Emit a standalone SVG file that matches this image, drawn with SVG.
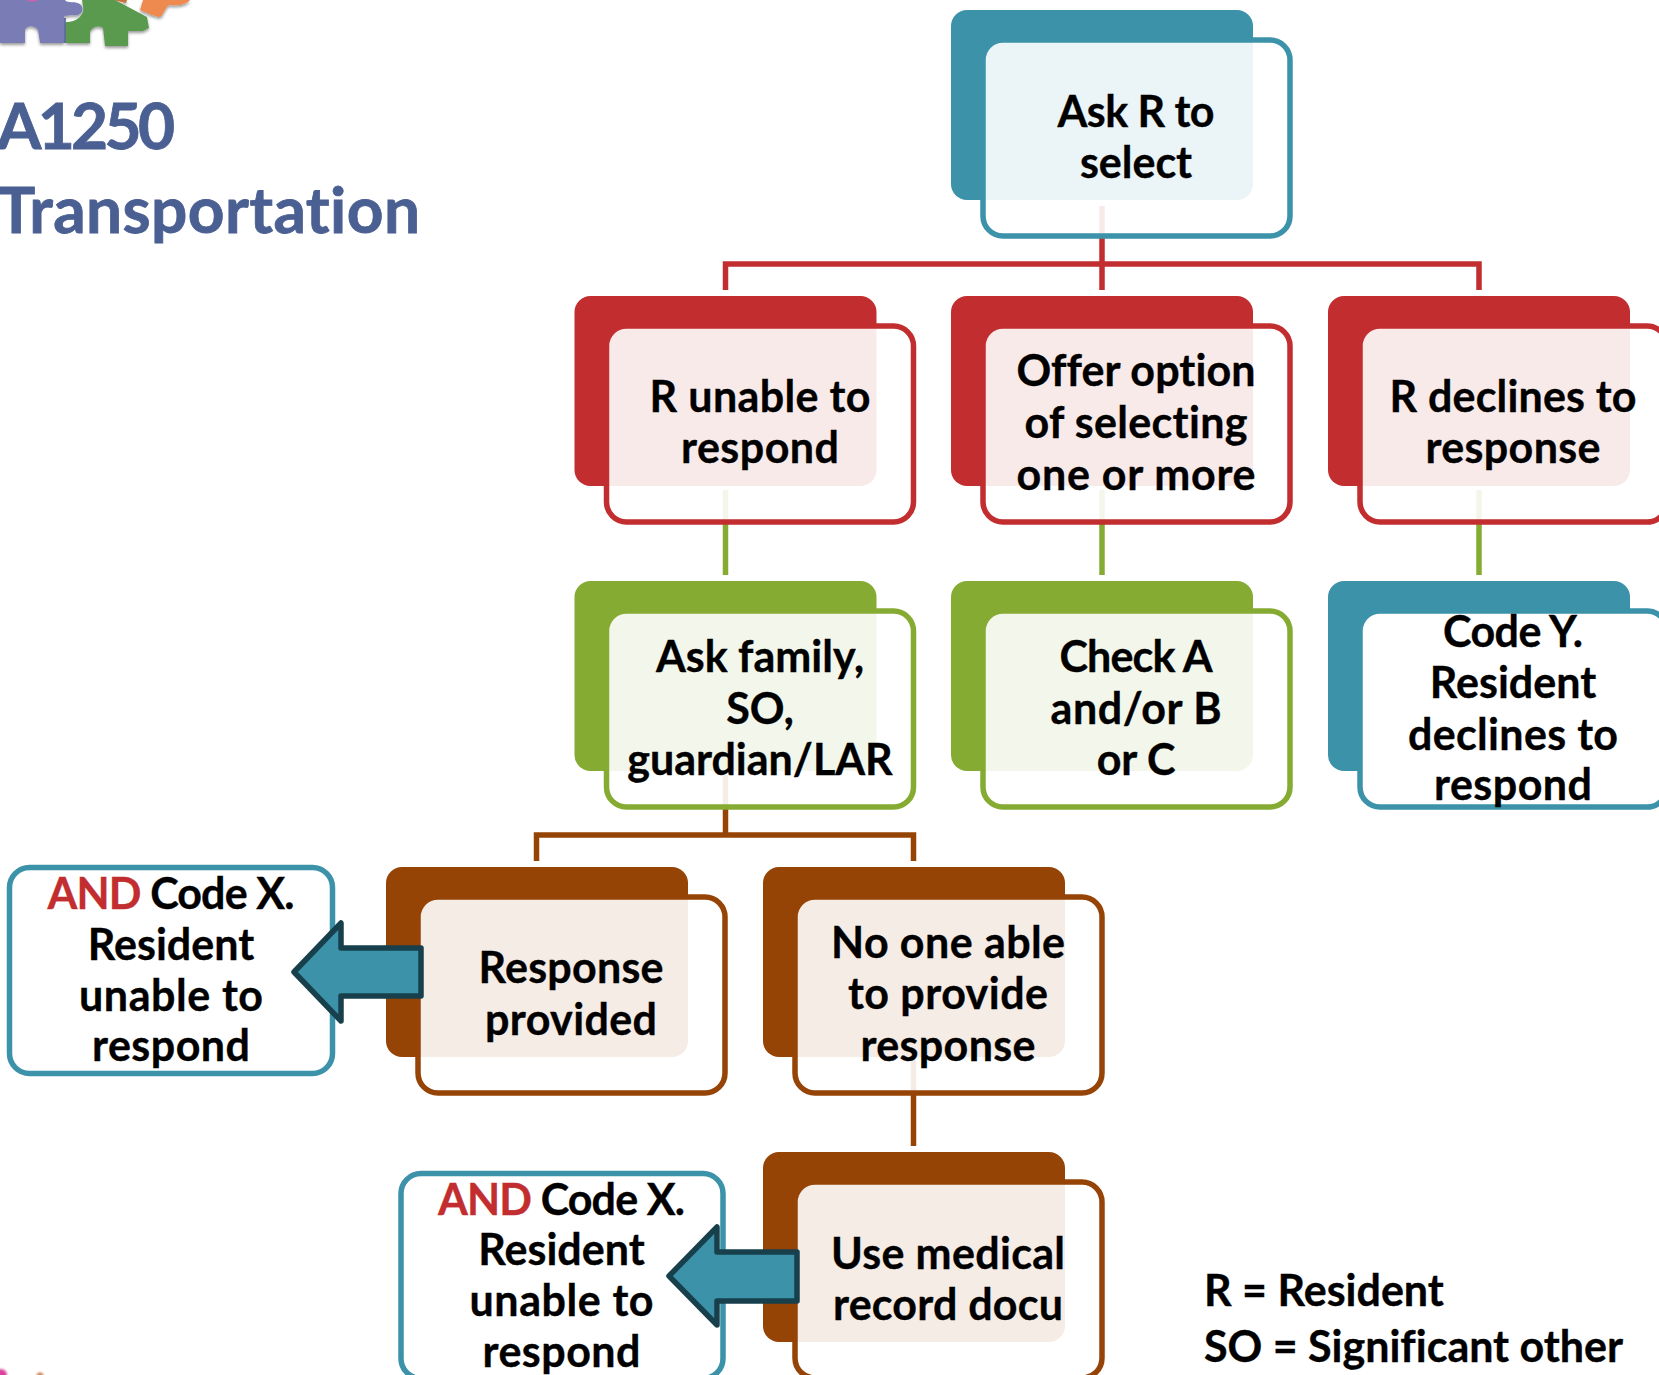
<svg xmlns="http://www.w3.org/2000/svg" width="1659" height="1375" viewBox="0 0 1659 1375">
<defs>
<filter id="sh" x="-10%" y="-10%" width="125%" height="135%"><feDropShadow dx="0" dy="2" stdDeviation="1.500" flood-color="#000" flood-opacity=".4"/></filter>
<filter id="soft"><feGaussianBlur stdDeviation="1"/></filter>
</defs>
<style>
text{font-family:Lato,"Liberation Sans",sans-serif;font-weight:700;font-size:43px;fill:#000;stroke:#000;stroke-width:.35px;text-anchor:middle;font-variant-ligatures:none;transform:translateY(1px)}
.title{font-size:64px;fill:#4A5F92;stroke:#4A5F92;stroke-width:.8px;text-anchor:start}
.leg{text-anchor:start}
.and{fill:#C22D2F;stroke:#C22D2F}
.conn{fill:none;stroke-width:5.5}
.back{stroke:none}
.out{fill:#fff;fill-opacity:.9;stroke-width:5.5}
.solid{fill-opacity:1}
.box{fill:#fff;stroke:#3B92A9;stroke-width:5.5}
.arrow{fill:#3B92A9;stroke:#17404C;stroke-width:5.5;stroke-linejoin:round}
.b{fill:#3B92A9}.bs{stroke:#3B92A9}
.r{fill:#C22D2F}.rs{stroke:#C22D2F}
.g{fill:#86AB33}.gs{stroke:#86AB33}
.o{fill:#964306}.os{stroke:#964306}
</style>
<g id="logo">
<g filter="url(#sh)">
<path fill="#EE8A4F" d="M143 0H190C187 4 180 6 169 5C165 7 164 15 160 17C156 17 147 13 140 10Z"/>
<path fill="#C9703C" d="M113 0H127L126 3Z"/>
<path fill="#5A9A50" d="M82 0H115L147 17L149 28L143 31H128L128 46H105L103 28C98 25 92 27 90 32L90 43H66V22C78 22 85 14 83 6Z"/>
<path fill="#7A7DB5" d="M0 0H65C67 4 76 0 81 5C85 10 81 17 72 15L64 16V43H40L38 30C34 25 27 25 25 30V43H0Z"/>
</g>
<path fill="#D060B0" d="M27 0H38C35 2 30 2 27 0Z"/>
<path fill="none" stroke="#3E4F86" stroke-width="1.500" d="M65 18V43"/>
</g>
<text class="title" x="-3" y="148" textLength="178">A1250</text>
<text class="title" x="-3" y="232" textLength="423">Transportation</text>
<g id="connectors">
<path class="conn rs" d="M1102 206V290M725.500 290V264H1479V290"/>
<path class="conn gs" d="M725.500 490V575M1102 490V575M1479 490V575"/>
<path class="conn os" d="M725.500 775V835M536.500 861V835H913.500V861"/>
<path class="conn os" d="M913.500 1060V1146"/>
</g>
<g id="n-ask"><rect class="back b" x="951" y="10" width="302" height="190" rx="16"/><rect class="out bs" x="983" y="40" width="307" height="196" rx="20"/><text x="1136" y="126" textLength="157">Ask R to</text><text x="1136" y="177">select</text></g>
<g id="n-unable"><rect class="back r" x="574.500" y="296" width="302" height="190" rx="16"/><rect class="out rs" x="606.500" y="326" width="307" height="196" rx="20"/><text x="760" y="411" textLength="221">R unable to</text><text x="760" y="462" textLength="158">respond</text></g>
<g id="n-offer"><rect class="back r" x="951" y="296" width="302" height="190" rx="16"/><rect class="out rs" x="983" y="326" width="307" height="196" rx="20"/><text x="1136" y="385" textLength="239">Offer option</text><text x="1136" y="437" textLength="223">of selecting</text><text x="1136" y="489" textLength="239">one or more</text></g>
<g id="n-declines"><rect class="back r" x="1328" y="296" width="302" height="190" rx="16"/><rect class="out rs" x="1360" y="326" width="307" height="196" rx="20"/><text x="1513" y="411" textLength="247">R declines to</text><text x="1513" y="462" textLength="175">response</text></g>
<g id="n-family"><rect class="back g" x="574.500" y="581" width="302" height="190" rx="16"/><rect class="out gs" x="606.500" y="611" width="307" height="196" rx="20"/><text x="760" y="671">Ask family,</text><text x="760" y="723">SO,</text><text x="760" y="774">guardian/LAR</text></g>
<g id="n-check"><rect class="back g" x="951" y="581" width="302" height="190" rx="16"/><rect class="out gs" x="983" y="611" width="307" height="196" rx="20"/><text x="1136" y="671" textLength="153">Check A</text><text x="1136" y="723" textLength="171">and/or B</text><text x="1136" y="774">or C</text></g>
<g id="n-codey"><rect class="back b" x="1328" y="581" width="302" height="190" rx="16"/><rect class="out solid bs" x="1360" y="611" width="307" height="196" rx="20"/><text x="1513" y="646" textLength="140">Code Y.</text><text x="1513" y="697">Resident</text><text x="1513" y="749" textLength="210">declines to</text><text x="1513" y="799" textLength="158">respond</text></g>
<g id="n-provided"><rect class="back o" x="386" y="867" width="302" height="190" rx="16"/><rect class="out os" x="418" y="897" width="307" height="196" rx="20"/><text x="571" y="982" textLength="185">Response</text><text x="571" y="1034" textLength="172">provided</text></g>
<g id="n-noone"><rect class="back o" x="763" y="867" width="302" height="190" rx="16"/><rect class="out os" x="795" y="897" width="307" height="196" rx="20"/><text x="948" y="957" textLength="234">No one able</text><text x="948" y="1008" textLength="200">to provide</text><text x="948" y="1060" textLength="175">response</text></g>
<g id="n-medical"><rect class="back o" x="763" y="1152" width="302" height="190" rx="16"/><rect class="out os" x="795" y="1182" width="307" height="196" rx="20"/><text x="948" y="1268" textLength="234">Use medical</text><text x="948" y="1319" textLength="230">record docu</text></g>
<g id="n-codex1"><rect class="box" x="9.500" y="867.500" width="323" height="206" rx="20"/><text x="171" y="908" textLength="247"><tspan class="and">AND</tspan> Code X.</text><text x="171" y="959">Resident</text><text x="171" y="1010" textLength="184">unable to</text><text x="171" y="1060" textLength="158">respond</text></g>
<g id="n-codex2"><rect class="box" x="401" y="1173.500" width="322" height="205" rx="20"/><text x="561.500" y="1214" textLength="247"><tspan class="and">AND</tspan> Code X.</text><text x="561.500" y="1264">Resident</text><text x="561.500" y="1315" textLength="184">unable to</text><text x="561.500" y="1366" textLength="158">respond</text></g>
<g id="arrows">
<polygon class="arrow" points="294,972 341,923 341,948 421,948 421,996 341,996 341,1021"/>
<polygon class="arrow" points="669,1276 717,1227 717,1252 797,1252 797,1301 717,1301 717,1325"/>
</g>
<text class="leg" x="1204" y="1305">R = Resident</text>
<text class="leg" x="1204" y="1361" textLength="419">SO = Significant other</text>
<g id="logo-bottom" filter="url(#soft)">
<circle cx="1" cy="1375" r="6" fill="#D9439B"/>
<circle cx="40" cy="1376" r="3.500" fill="#C9824F"/>
</g>
</svg>
